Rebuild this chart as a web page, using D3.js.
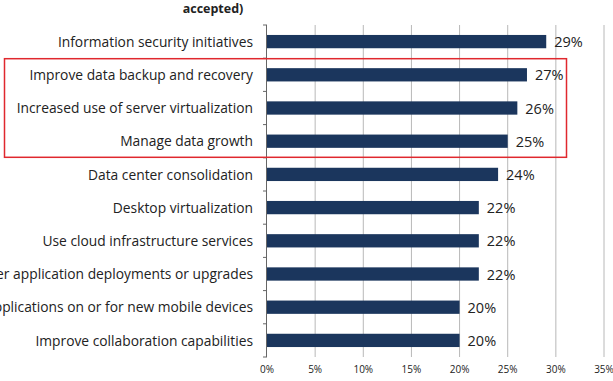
<!DOCTYPE html>
<html>
<head>
<meta charset="utf-8">
<script src="https://cdn.jsdelivr.net/npm/d3@7"></script>
<style>
  html, body { margin: 0; padding: 0; background: #fff; }
  svg { display: block; }
</style>
</head>
<body>
<div id="chart"></div>
<script>
// chart data, top to bottom
const categories = [
  'Information security initiatives',
  'Improve data backup and recovery',
  'Increased use of server virtualization',
  'Manage data growth',
  'Data center consolidation',
  'Desktop virtualization',
  'Use cloud infrastructure services',
  'Faster application deployments or upgrades',
  'Applications on or for new mobile devices',
  'Improve collaboration capabilities'
];
const values = [29, 27, 26, 25, 24, 22, 22, 22, 20, 20];
const xTicks = [0, 5, 10, 15, 20, 25, 30, 35];
const highlighted = ['Improve data backup and recovery', 'Manage data growth'];

const W = 613, H = 381;
const margin = { top: 25, right: 8, bottom: 24, left: 267 };
const FONT = "'Open Sans', 'Noto Sans', sans-serif";

const svg = d3.select('#chart').append('svg')
  .attr('width', W).attr('height', H);

const x = d3.scaleLinear().domain([0, 35]).range([margin.left, 604]);
const y = d3.scaleBand().domain(categories)
  .range([margin.top, H - margin.bottom]).paddingInner(0.6).paddingOuter(0.3);

// title (cut off at top)
svg.append('text')
  .attr('x', 213).attr('y', 13)
  .attr('text-anchor', 'middle')
  .attr('font-family', FONT).attr('font-weight', 700).attr('font-size', 12.5)
  .attr('fill', '#222')
  .text('accepted)');

// vertical gridlines
svg.append('g')
  .selectAll('line')
  .data(xTicks.slice(1))
  .join('line')
  .attr('x1', d => x(d)).attr('x2', d => x(d))
  .attr('y1', margin.top).attr('y2', H - margin.bottom)
  .attr('stroke', '#b8b8b8').attr('stroke-width', 1);

// bars
svg.append('g')
  .selectAll('rect')
  .data(categories)
  .join('rect')
  .attr('x', x(0))
  .attr('y', d => y(d))
  .attr('width', (d, i) => x(values[i]) - x(0))
  .attr('height', y.bandwidth())
  .attr('fill', '#1b365d');

// value labels
svg.append('g')
  .selectAll('text')
  .data(categories)
  .join('text')
  .attr('x', (d, i) => x(values[i]) + 8)
  .attr('y', d => y(d) + y.bandwidth() / 2)
  .attr('dy', '0.38em')
  .attr('font-family', FONT).attr('font-size', 14.5)
  .attr('fill', '#222')
  .text((d, i) => values[i] + '%');

// y axis: line + ticks at band boundaries
const yAxis = svg.append('g');
yAxis.append('line')
  .attr('x1', x(0) - 0.5).attr('x2', x(0) - 0.5)
  .attr('y1', margin.top).attr('y2', H - margin.bottom)
  .attr('stroke', '#666');
const step = y.step();
const bounds = d3.range(categories.length + 1).map(i => margin.top + i * (H - margin.top - margin.bottom) / categories.length);
yAxis.selectAll('.tk')
  .data(bounds)
  .join('line')
  .attr('class', 'tk')
  .attr('x1', x(0) - 4).attr('x2', x(0))
  .attr('y1', d => d).attr('y2', d => d)
  .attr('stroke', '#666');

// category labels
svg.append('g')
  .selectAll('text')
  .data(categories)
  .join('text')
  .attr('x', x(0) - 14)
  .attr('y', d => y(d) + y.bandwidth() / 2)
  .attr('dy', '0.38em')
  .attr('text-anchor', 'end')
  .attr('font-family', FONT).attr('font-size', 13.8)
  .attr('fill', '#222')
  .text(d => d);

// x tick labels
svg.append('g')
  .selectAll('text')
  .data(xTicks)
  .join('text')
  .attr('x', d => x(d))
  .attr('y', H - 8)
  .attr('text-anchor', 'middle')
  .attr('font-family', FONT).attr('font-size', 10)
  .attr('fill', '#222')
  .text(d => d + '%');

// red highlight box around rows 2-4
const boxTop = y(highlighted[0]) - (step - y.bandwidth()) / 2 + 0.5;
const boxBot = y(highlighted[1]) + y.bandwidth() + (step - y.bandwidth()) / 2 - 0.5;
svg.append('rect')
  .attr('x', 4.5).attr('y', boxTop)
  .attr('width', 562).attr('height', boxBot - boxTop)
  .attr('fill', 'none')
  .attr('stroke', '#e0282e').attr('stroke-width', 1.5);
</script>
</body>
</html>
